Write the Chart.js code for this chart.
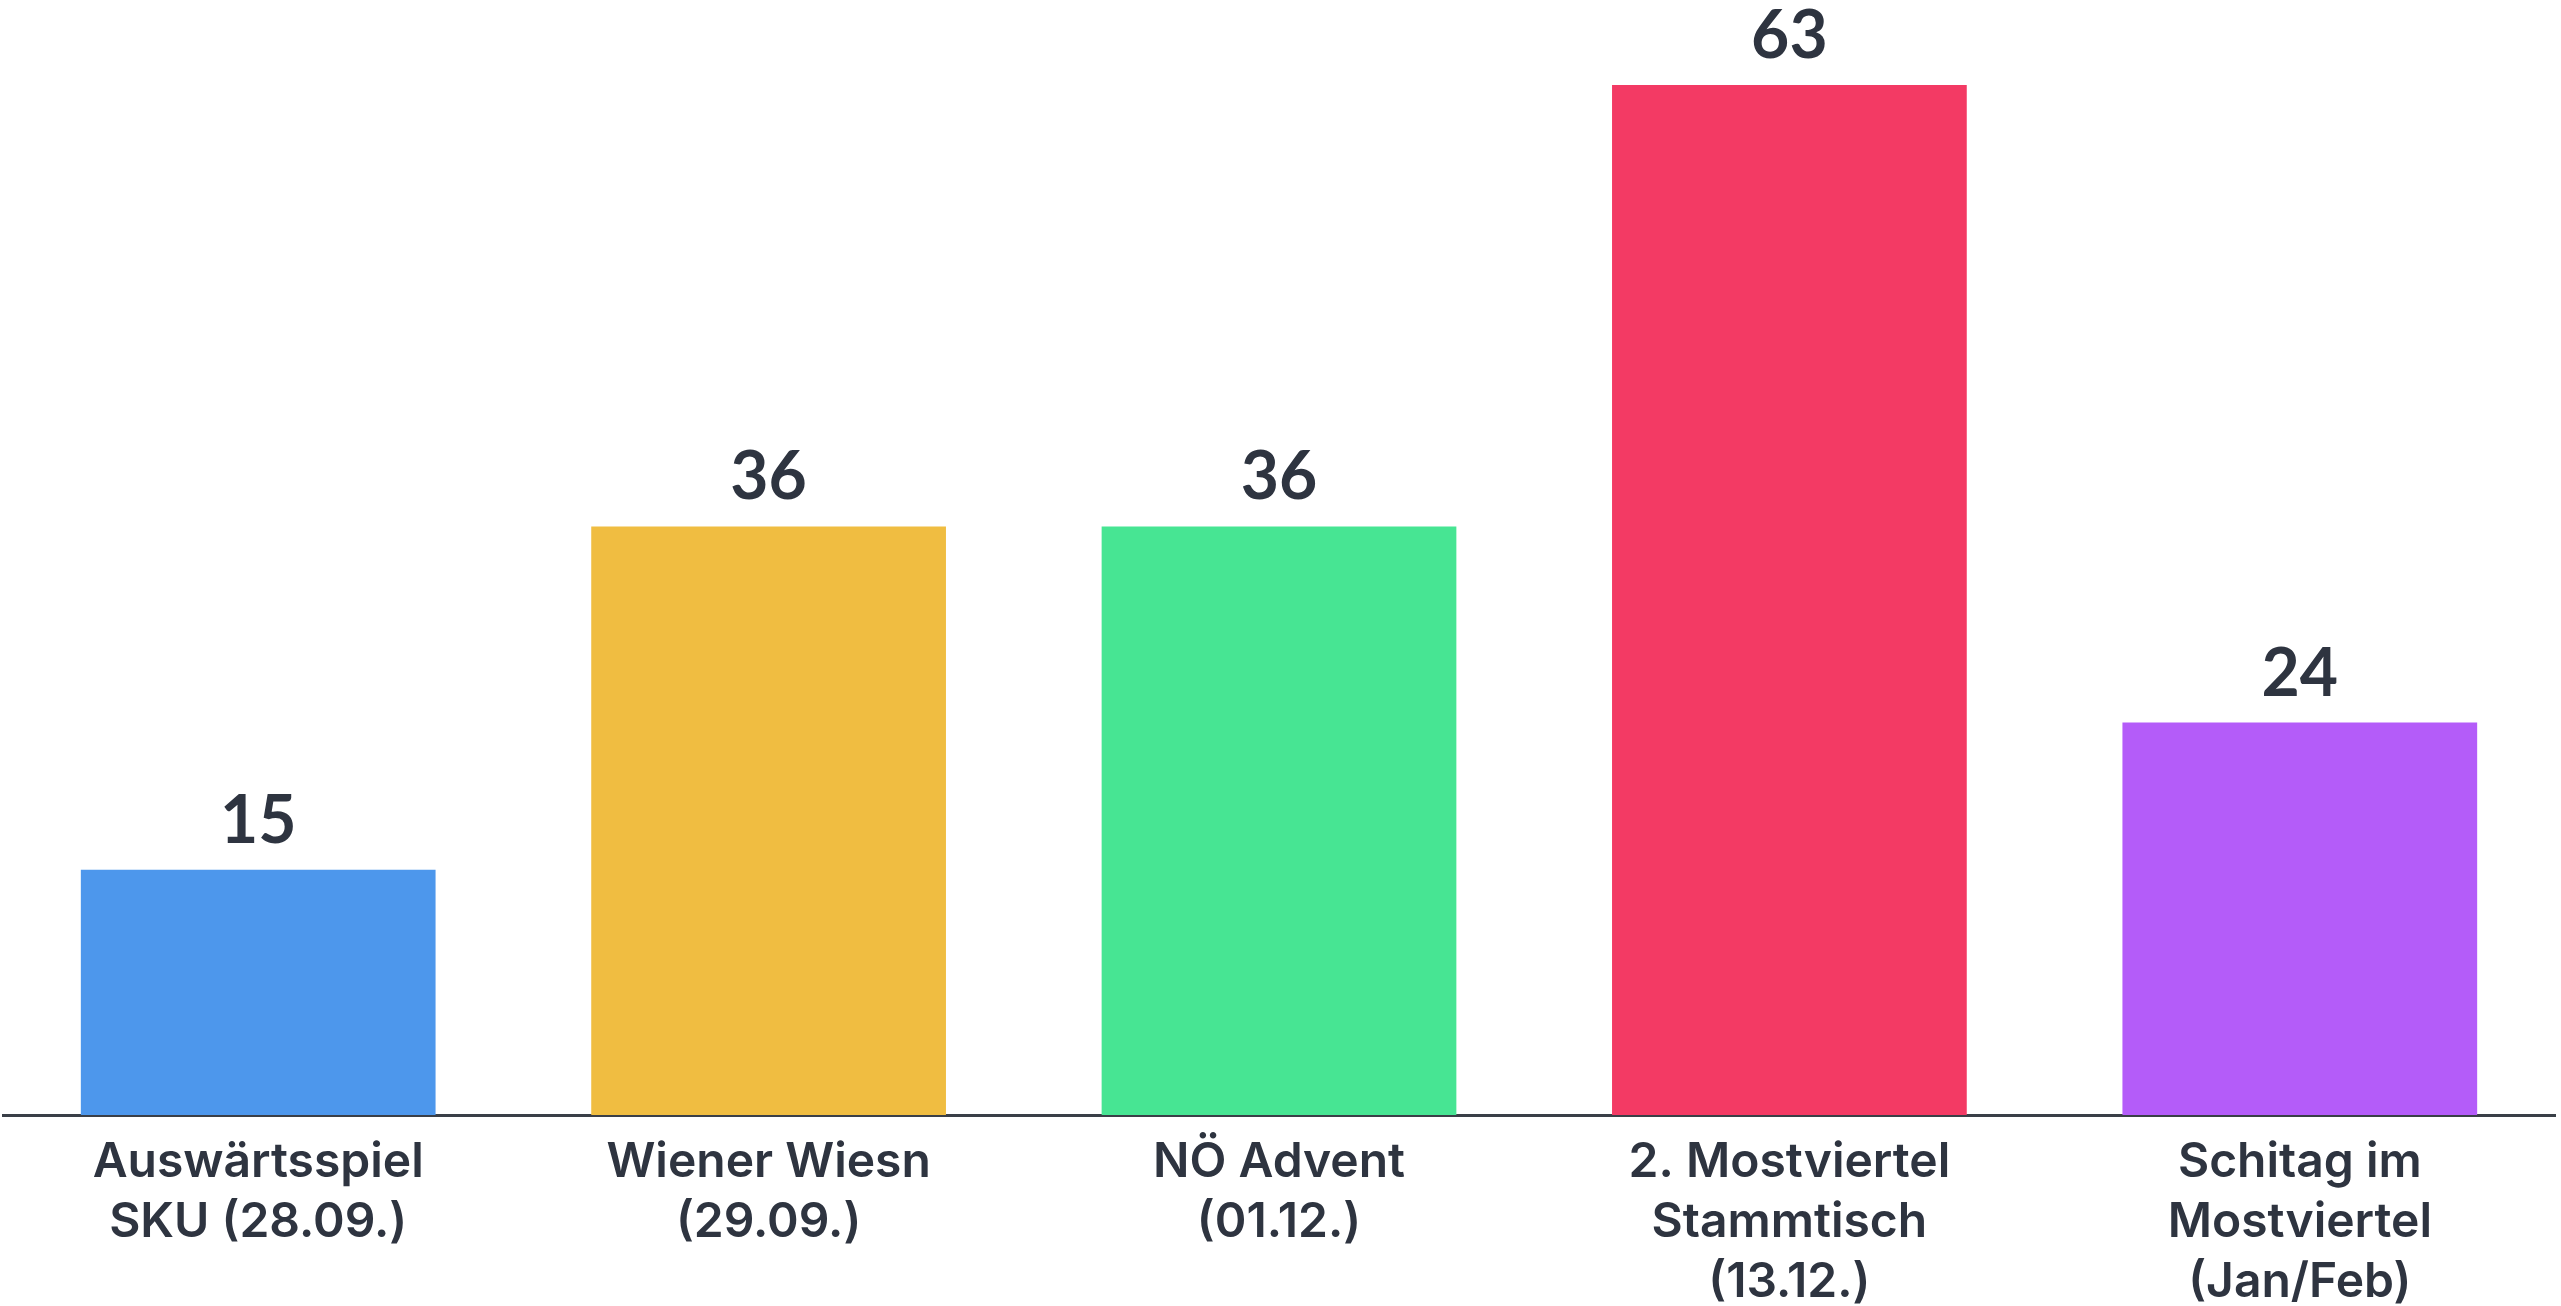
<!DOCTYPE html>
<html>
<head>
<meta charset="utf-8">
<script src="https://cdn.jsdelivr.net/npm/chart.js@4/dist/chart.umd.min.js"></script>
<style>
  html, body { margin: 0; padding: 0; background: #ffffff; }
  #wrap { width: 2561px; height: 1306px; position: relative; }
</style>
</head>
<body>
<div id="wrap"><canvas id="bar_chart"></canvas></div>
<script>
// categories and values
const categories = [
  ['Auswärtsspiel', 'SKU (28.09.)'],
  ['Wiener Wiesn', '(29.09.)'],
  ['NÖ Advent', '(01.12.)'],
  ['2. Mostviertel', 'Stammtisch', '(13.12.)'],
  ['Schitag im', 'Mostviertel', '(Jan/Feb)']
];
const votes = [15, 36, 36, 63, 24];
const bar_colors = ['#4d97ec', '#f0bd41', '#47e593', '#f33a64', '#b45cf9'];

const text_color = '#2e3440';

// writes the value above each bar, using the bar positions from chart.js
const valueLabels = {
  id: 'valueLabels',
  afterDatasetsDraw(chart) {
    const ctx = chart.ctx;
    const meta = chart.getDatasetMeta(0);
    ctx.save();
    ctx.font = 'bold 66px Lato';
    ctx.fillStyle = text_color;
    ctx.textAlign = 'center';
    ctx.textBaseline = 'alphabetic';
    meta.data.forEach(function (bar, i) {
      ctx.fillText(String(votes[i]), bar.x, bar.y - 27);
    });
    ctx.restore();
  }
};

var ctx = document.getElementById('bar_chart').getContext('2d');
var myChart = new Chart(ctx, {
  type: 'bar',
  data: {
    labels: categories,
    datasets: [{
      data: votes,
      backgroundColor: bar_colors,
      borderWidth: 0,
      barPercentage: 0.695,
      categoryPercentage: 1.0
    }]
  },
  options: {
    responsive: true,
    maintainAspectRatio: false,
    animation: false,
    layout: { padding: { left: 3, right: 6 } },
    plugins: {
      legend: { display: false },
      tooltip: { enabled: false }
    },
    scales: {
      x: {
        grid: { display: false },
        border: { display: true, color: '#3a3f47', width: 3 },
        ticks: {
          color: text_color,
          font: { family: 'Inter', size: 48, weight: '600', lineHeight: 1.25 },
          padding: 10,
          maxRotation: 0,
          autoSkip: false
        },
        afterFit: function (scale) { scale.height = 191; }
      },
      y: {
        display: false,
        min: 0,
        max: 68.2
      }
    }
  },
  plugins: [valueLabels]
});
</script>
</body>
</html>
